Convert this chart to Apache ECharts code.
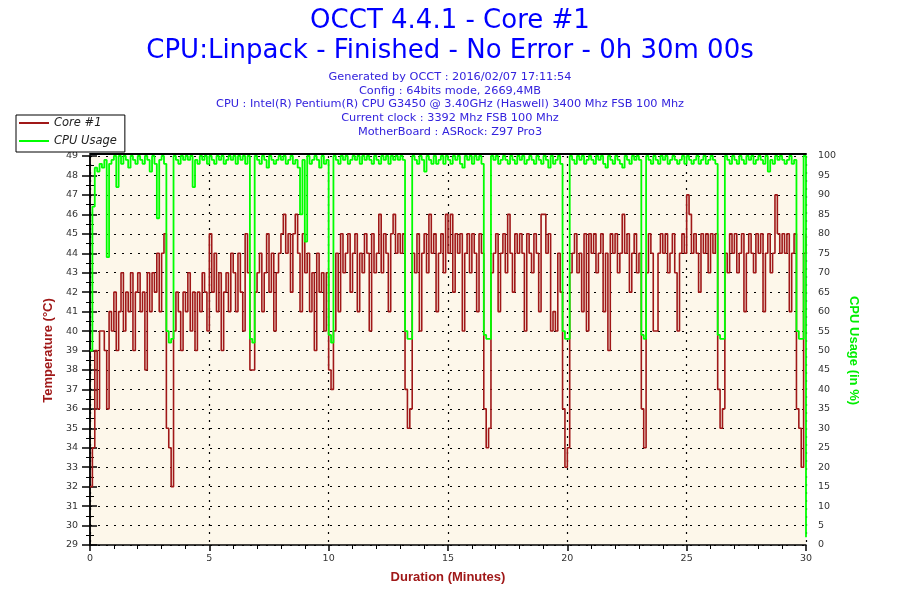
<!DOCTYPE html>
<html>
<head>
<meta charset="utf-8">
<title>OCCT 4.4.1 - Core #1</title>
<script src="https://cdn.jsdelivr.net/npm/echarts@6/dist/echarts.min.js"></script>
<style>
    html, body { margin: 0; padding: 0; background: #fff; }
    #chart { width: 900px; height: 600px; }
</style>
</head>
<body>
<div id="chart"></div>
<script>
// one sample every 6 s -> 0.1 min between points
var SAMPLE_MIN = 0.1;

var titleLines = ['OCCT 4.4.1 - Core #1', 'CPU:Linpack - Finished - No Error - 0h 30m 00s'];
var infoLines = [
    'Generated by OCCT : 2016/02/07 17:11:54',
    'Config : 64bits mode, 2669,4MB',
    'CPU : Intel(R) Pentium(R) CPU G3450 @ 3.40GHz (Haswell) 3400 Mhz FSB 100 Mhz',
    'Current clock : 3392 Mhz FSB 100 Mhz',
    'MotherBoard : ASRock: Z97 Pro3'
];

// Core #1 temperature (°C), one row per minute
var coreTemp = [
    32, 34, 39, 36, 40, 40, 39, 36, 41, 40,
    42, 39, 41, 43, 40, 42, 41, 43, 39, 42,
    43, 41, 42, 38, 43, 41, 43, 42, 44, 41,
    44, 45, 35, 34, 32, 40, 42, 41, 39, 42,
    41, 43, 40, 42, 39, 42, 41, 43, 42, 40,
    45, 42, 44, 41, 43, 39, 42, 43, 41, 44,
    43, 41, 44, 42, 40, 45, 43, 38, 38, 42,
    43, 44, 41, 43, 45, 42, 44, 40, 43, 44,
    45, 46, 44, 45, 42, 45, 46, 44, 41, 45,
    43, 44, 41, 43, 39, 44, 42, 43, 40, 43,
    38, 37, 40, 44, 41, 45, 43, 44, 45, 42,
    44, 45, 41, 44, 43, 45, 44, 40, 45, 43,
    44, 46, 43, 45, 44, 41, 45, 46, 44, 45,
    44, 45, 37, 35, 36, 44, 43, 45, 40, 44,
    45, 43, 46, 44, 45, 41, 44, 45, 43, 46,
    44, 46, 42, 45, 44, 45, 40, 44, 45, 43,
    45, 44, 41, 45, 44, 36, 34, 35, 43, 44,
    45, 41, 44, 45, 43, 46, 44, 42, 45, 44,
    45, 44, 40, 45, 44, 43, 45, 44, 41, 46,
    46, 44, 45, 40, 41, 40, 44, 42, 36, 33,
    34, 43, 44, 45, 43, 44, 41, 45, 40, 45,
    44, 45, 43, 44, 45, 41, 44, 39, 45, 44,
    45, 43, 44, 46, 44, 45, 42, 44, 45, 43,
    44, 36, 34, 43, 45, 44, 40, 40, 44, 45,
    44, 45, 43, 44, 45, 43, 40, 44, 45, 44,
    47, 46, 44, 45, 44, 42, 45, 44, 45, 43,
    45, 44, 45, 37, 35, 36, 44, 43, 45, 44,
    45, 43, 44, 45, 41, 44, 45, 44, 43, 45,
    44, 45, 41, 44, 45, 43, 44, 47, 45, 44,
    45, 44, 45, 41, 44, 45, 36, 35, 33, 44,
    45
];

// CPU usage (%), same sampling
var cpuUsage = [
    50, 87, 97, 96, 98, 97, 99, 74, 98, 99,
    100, 92, 100, 98, 100, 99, 97, 100, 99, 98,
    100, 99, 98, 100, 99, 96, 100, 98, 84, 99,
    100, 98, 55, 52, 53, 100, 99, 98, 100, 99,
    100, 99, 100, 92, 99, 98, 100, 99, 100, 98,
    100, 99, 98, 100, 99, 100, 98, 99, 100, 99,
    100, 98, 100, 99, 100, 98, 100, 53, 52, 100,
    99, 98, 100, 99, 97, 100, 99, 98, 99, 100,
    99, 100, 98, 99, 100, 98, 99, 97, 85, 99,
    78, 100, 98, 99, 100, 99, 97, 100, 98, 99,
    54, 52, 100, 99, 98, 100, 99, 100, 98, 99,
    100, 99, 100, 98, 100, 99, 100, 99, 98, 100,
    99, 98, 100, 99, 100, 98, 100, 99, 100, 99,
    100, 99, 55, 53, 53, 100, 99, 98, 100, 99,
    96, 100, 99, 98, 100, 98, 99, 100, 98, 100,
    99, 98, 100, 99, 100, 98, 97, 100, 99, 100,
    98, 100, 99, 100, 98, 54, 53, 53, 100, 99,
    100, 98, 99, 100, 99, 98, 100, 99, 98, 100,
    99, 100, 98, 99, 100, 99, 98, 100, 99, 98,
    100, 99, 97, 100, 98, 99, 100, 98, 55, 53,
    53, 100, 99, 98, 100, 99, 100, 98, 99, 100,
    99, 98, 100, 99, 100, 98, 97, 100, 99, 98,
    100, 99, 98, 97, 100, 99, 98, 100, 99, 100,
    99, 54, 53, 100, 99, 98, 100, 99, 98, 100,
    99, 100, 98, 99, 100, 99, 98, 99, 100, 98,
    100, 99, 98, 99, 100, 98, 99, 100, 98, 99,
    100, 99, 98, 54, 53, 53, 100, 99, 98, 100,
    99, 98, 100, 99, 98, 100, 99, 100, 98, 99,
    100, 99, 98, 100, 96, 99, 98, 100, 99, 100,
    99, 98, 99, 100, 98, 99, 55, 53, 53, 100,
    2
];

var RED = '#A01818';
var GREEN = '#00FF00';

function toPairs(values) {
    return values.map(function (v, i) { return [i * SAMPLE_MIN, v]; });
}

var labelStyle = { color: '#333', fontSize: 9.5, fontFamily: 'DejaVu Sans' };
var nameStyle = { fontSize: 13, fontWeight: 'bold', fontFamily: 'Liberation Sans' };
var dotted = { color: '#000', type: [2, 6], width: 1.2 };

var myChart = echarts.init(document.getElementById('chart'));
var option = {
    backgroundColor: '#fff',
    animation: false,
    title: [
        {
            text: titleLines.join('\n'),
            left: 'center',
            top: 6,
            padding: 0,
            textStyle: { color: '#0000FF', fontSize: 26, fontWeight: 'normal', fontFamily: 'DejaVu Sans', lineHeight: 30 }
        },
        {
            text: infoLines.join('\n'),
            left: 'center',
            top: 70,
            padding: 0,
            textStyle: { color: '#3322DD', fontSize: 11.3, fontWeight: 'normal', fontFamily: 'DejaVu Sans', lineHeight: 13.8 }
        }
    ],
    legend: {
        left: 16,
        top: 115,
        orient: 'vertical',
        itemWidth: 30,
        itemHeight: 2,
        itemGap: 4,
        padding: [1, 8, 4, 3],
        borderColor: '#000',
        borderWidth: 1,
        borderRadius: 0,
        backgroundColor: '#fff',
        textStyle: { fontStyle: 'italic', fontSize: 11.5, lineHeight: 14, color: '#222', fontFamily: 'DejaVu Sans' },
        data: [{ name: 'Core #1', icon: 'rect' }, { name: 'CPU Usage', icon: 'rect' }]
    },
    grid: {
        left: 90,
        right: 94,
        top: 156,
        bottom: 55,
        show: true,
        backgroundColor: '#FDF7EA',
        borderWidth: 0
    },
    xAxis: [
        {
            type: 'value',
            min: 0,
            max: 30,
            interval: 5,
            name: 'Duration (Minutes)',
            nameLocation: 'middle',
            nameGap: 26,
            nameTextStyle: Object.assign({ color: RED }, nameStyle),
            axisLine: { show: true, onZero: false, lineStyle: { color: '#000', width: 1.5 } },
            axisTick: { show: true, length: 6, lineStyle: { color: '#000', width: 1.5 } },
            minorTick: { show: true, splitNumber: 5, length: 4, lineStyle: { color: '#000', width: 1 } },
            axisLabel: Object.assign({ margin: 9 }, labelStyle),
            splitLine: { show: true, lineStyle: dotted }
        },
        {
            // top frame line, sitting just above the plot
            type: 'value',
            position: 'top',
            offset: 2,
            min: 0,
            max: 30,
            interval: 5,
            axisLine: { show: true, onZero: false, lineStyle: { color: '#000', width: 2 } },
            axisTick: { show: false },
            axisLabel: { show: false },
            splitLine: { show: false }
        }
    ],
    yAxis: [
        {
            type: 'value',
            position: 'left',
            min: 29,
            max: 49,
            interval: 1,
            name: 'Temperature (°C)',
            nameLocation: 'middle',
            nameGap: 34,
            nameTextStyle: Object.assign({ color: RED }, nameStyle),
            axisLine: { show: true, lineStyle: { color: '#000', width: 1.5 } },
            axisTick: { show: true, length: 8, lineStyle: { color: '#000', width: 1.5 } },
            minorTick: { show: true, splitNumber: 2, length: 4, lineStyle: { color: '#000', width: 1 } },
            axisLabel: Object.assign({ margin: 12 }, labelStyle),
            splitLine: { show: true, lineStyle: dotted }
        },
        {
            type: 'value',
            position: 'right',
            min: 0,
            max: 100,
            interval: 5,
            name: 'CPU Usage (in %)',
            nameLocation: 'middle',
            nameRotate: -90,
            nameGap: 39,
            nameTextStyle: Object.assign({ color: '#00EE00' }, nameStyle),
            axisLine: { show: true, lineStyle: { color: '#000', width: 1.5 } },
            axisTick: { show: true, length: 7, lineStyle: { color: '#000', width: 1.5 } },
            minorTick: { show: true, splitNumber: 2, length: 4, lineStyle: { color: '#000', width: 1 } },
            axisLabel: Object.assign({ margin: 12 }, labelStyle),
            splitLine: { show: false }
        }
    ],
    series: [
        {
            name: 'Core #1',
            type: 'line',
            yAxisIndex: 0,
            step: 'end',
            symbol: 'none',
            data: toPairs(coreTemp),
            lineStyle: { color: RED, width: 1.6 },
            itemStyle: { color: RED }
        },
        {
            name: 'CPU Usage',
            type: 'line',
            yAxisIndex: 1,
            step: 'end',
            symbol: 'none',
            data: toPairs(cpuUsage),
            lineStyle: { color: GREEN, width: 1.8 },
            itemStyle: { color: GREEN }
        }
    ]
};
if (option && typeof option === "object") {
    myChart.setOption(option, true);
}
</script>
</body>
</html>
